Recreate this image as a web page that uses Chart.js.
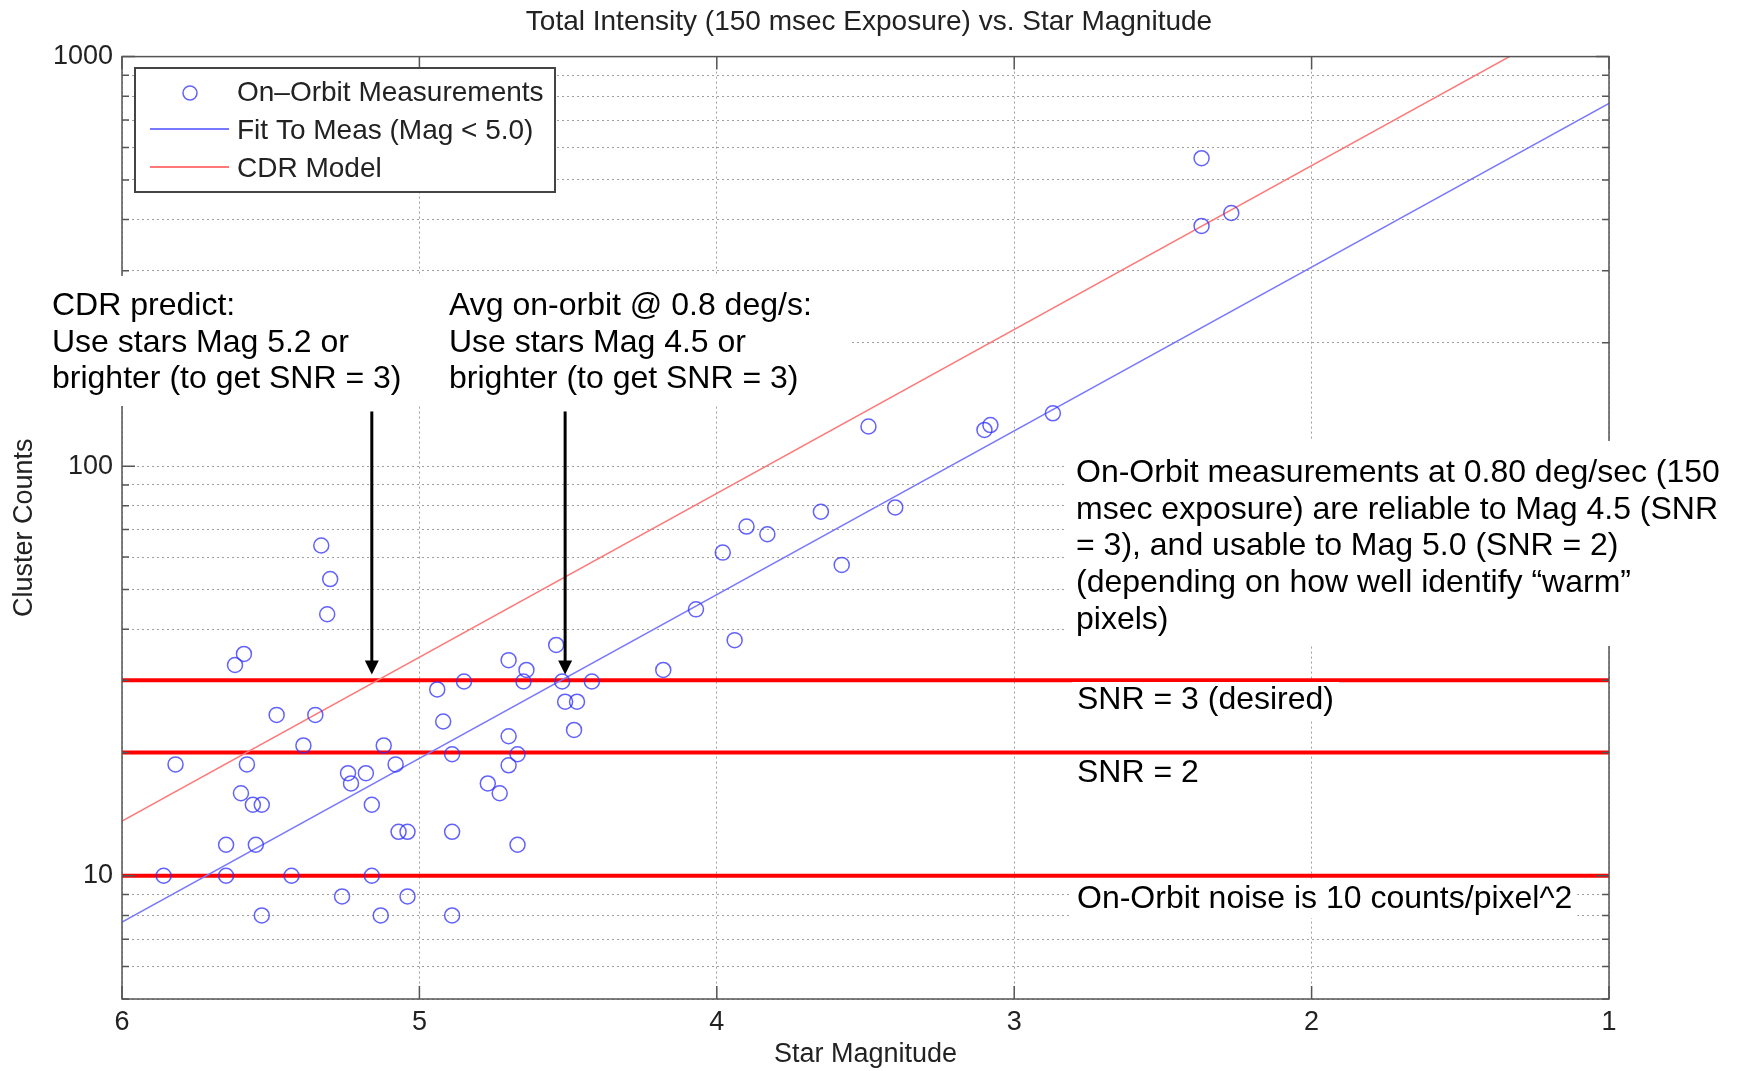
<!DOCTYPE html>
<html>
<head>
<meta charset="utf-8">
<title>Total Intensity vs. Star Magnitude</title>
<script src="https://cdn.jsdelivr.net/npm/chart.js@4.4.0/dist/chart.umd.min.js"></script>
<style>
  html, body { margin: 0; padding: 0; background: #fff; }
  canvas { display: block; }
</style>
</head>
<body>
<canvas id="intensity" width="1738" height="1071"></canvas>
<script>
// star magnitude / cluster counts for each on-orbit measurement
const measMag = [
  5.33, 5.30, 5.31, 5.59, 5.62, 5.48, 5.35, 5.39, 5.82, 5.58,
  5.60, 5.56, 5.53, 5.65, 5.55, 5.86, 5.65, 5.43, 5.16, 5.53,
  5.26, 5.13, 5.04, 4.89, 5.12, 5.24, 5.18, 5.23, 5.08, 5.16,
  5.07, 5.04, 4.89, 4.94, 4.85, 4.92, 4.89, 4.70, 4.64, 4.65,
  4.54, 4.52, 4.42, 4.51, 4.47, 4.48, 4.70, 4.67, 4.70, 4.77,
  4.73, 4.67,
  3.49, 3.10, 3.08, 2.87, 3.65, 3.40, 3.90, 3.83, 3.98, 3.58,
  4.07, 3.94, 4.18,
  2.37, 2.37, 2.27
];
const measCounts = [
  64, 53, 43.5, 34.8, 32.7, 24.7, 24.7, 20.8, 18.7, 18.7,
  15.9, 14.9, 14.9, 11.9, 11.9, 10, 10, 10, 10, 8,
  8.9, 8, 8.9, 8, 20.8, 17.8, 17.8, 16.8, 18.7, 14.9,
  12.8, 12.8, 12.8, 28.5, 29.8, 23.8, 19.8, 33.6, 31.8, 29.8,
  36.6, 29.8, 29.8, 26.6, 26.6, 22.7, 21.9, 19.8, 18.6, 16.8,
  15.9, 11.9,
  125, 122.6, 126, 134.6, 77.4, 79.3, 71.2, 68.2, 61.5, 57.4,
  44.7, 37.6, 31.8,
  565, 386, 415
];

// fitted line and CDR model (log counts linear in magnitude)
const lineMag = [6, 1];
const fitCounts = [7.7, 769];
const cdrCounts = [13.6, 1361];

// SNR threshold levels
const snrLevels = [30, 20, 10];

// arrows: magnitude, start count, tip count
const arrowMag = [5.16, 4.51];
const arrowFrom = 136;
const arrowTo = 31;

// axis ticks
const xTicks = [6, 5, 4, 3, 2, 1];
const yGrid = [5, 6, 7, 8, 9, 10, 20, 30, 40, 50, 60, 70, 80, 90,
               100, 200, 300, 400, 500, 600, 700, 800, 900, 1000];
const yLabels = [10, 100, 1000];

const measColor = 'rgba(45,45,255,0.75)';
const fitColor = 'rgb(120,120,255)';
const cdrColor = 'rgb(255,120,120)';
const snrColor = '#ff0000';
const labelFont = '"Liberation Sans", Arial, Helvetica, sans-serif';

Chart.defaults.font.family = labelFont;
Chart.defaults.color = '#222';

const pairs = (xs, ys) => xs.map((v, i) => ({ x: v, y: ys[i] }));

const snrSets = snrLevels.map(lvl => ({
  type: 'line',
  label: 'SNR ' + lvl,
  data: pairs(lineMag, [lvl, lvl]),
  borderColor: snrColor,
  borderWidth: 4,
  pointRadius: 0
}));

const gridStyle = { color: 'rgba(0,0,0,0.38)', lineWidth: 1, drawTicks: false, borderDash: [2, 3] };
const borderStyle = { display: false, dash: [2, 3] };

// box, inward ticks
const frame = {
  id: 'frame',
  afterDatasetsDraw(chart) {
    const { ctx, chartArea: a, scales: { x, y } } = chart;
    ctx.save();
    ctx.strokeStyle = '#555';
    ctx.lineWidth = 1.5;
    ctx.beginPath();
    xTicks.forEach(v => {
      const px = x.getPixelForValue(v);
      ctx.moveTo(px, a.bottom); ctx.lineTo(px, a.bottom - 13);
      ctx.moveTo(px, a.top); ctx.lineTo(px, a.top + 13);
    });
    yGrid.forEach(v => {
      const py = y.getPixelForValue(v);
      const len = yLabels.includes(v) ? 13 : 7;
      ctx.moveTo(a.left, py); ctx.lineTo(a.left + len, py);
      ctx.moveTo(a.right, py); ctx.lineTo(a.right - len, py);
    });
    ctx.stroke();
    ctx.strokeRect(a.left, a.top, a.right - a.left, a.bottom - a.top);
    ctx.restore();
  }
};

const leftNotes = [
  { x: 52, lines: ['CDR predict:', 'Use stars Mag 5.2 or', 'brighter (to get SNR = 3)'] },
  { x: 449, lines: ['Avg on-orbit @ 0.8 deg/s:', 'Use stars Mag 4.5 or', 'brighter (to get SNR = 3)'] }
];
const rightNote = [
  'On-Orbit measurements at 0.80 deg/sec (150',
  'msec exposure) are reliable to Mag 4.5 (SNR',
  '= 3), and usable to Mag 5.0 (SNR = 2)',
  '(depending on how well identify \u201cwarm\u201d',
  'pixels)'
];
const snrNotes = [
  { text: 'SNR = 3 (desired)', y: 709 },
  { text: 'SNR = 2', y: 782 },
  { text: 'On-Orbit noise is 10 counts/pixel^2', y: 908 }
];

const notes = {
  id: 'notes',
  afterDraw(chart) {
    const { ctx, scales: { x, y } } = chart;
    ctx.save();
    ctx.font = '32px ' + labelFont;
    ctx.fillStyle = '#fff';
    ctx.fillRect(33, 276, 818, 130);
    ctx.fillRect(1066, 441, 672, 205);
    snrNotes.forEach(n => {
      const w = ctx.measureText(n.text).width;
      ctx.fillRect(1072, n.y - 27, w + 10, 37);
    });

    ctx.fillStyle = '#000';
    ctx.textBaseline = 'alphabetic';
    ctx.textAlign = 'left';
    leftNotes.forEach(n => n.lines.forEach((t, i) => ctx.fillText(t, n.x, 315 + i * 36.7)));
    rightNote.forEach((t, i) => ctx.fillText(t, 1076, 482 + i * 36.7));
    snrNotes.forEach(n => ctx.fillText(n.text, 1077, n.y));

    // arrows
    ctx.strokeStyle = '#000';
    ctx.lineWidth = 3;
    arrowMag.forEach(m => {
      const px = x.getPixelForValue(m);
      const top = y.getPixelForValue(arrowFrom);
      const tip = y.getPixelForValue(arrowTo);
      ctx.beginPath();
      ctx.moveTo(px, top);
      ctx.lineTo(px, tip - 10);
      ctx.stroke();
      ctx.beginPath();
      ctx.moveTo(px - 7, tip - 14);
      ctx.lineTo(px + 7, tip - 14);
      ctx.lineTo(px, tip);
      ctx.closePath();
      ctx.fill();
    });

    // legend
    ctx.fillStyle = '#fff';
    ctx.fillRect(135, 68, 420, 124);
    ctx.strokeStyle = '#444';
    ctx.lineWidth = 2;
    ctx.strokeRect(135, 68, 420, 124);
    ctx.strokeStyle = measColor;
    ctx.lineWidth = 1.5;
    ctx.beginPath();
    ctx.arc(190, 93, 7, 0, Math.PI * 2);
    ctx.stroke();
    ctx.lineWidth = 2;
    ctx.strokeStyle = fitColor;
    ctx.beginPath(); ctx.moveTo(150, 129); ctx.lineTo(229, 129); ctx.stroke();
    ctx.strokeStyle = cdrColor;
    ctx.beginPath(); ctx.moveTo(150, 167); ctx.lineTo(229, 167); ctx.stroke();
    ctx.fillStyle = '#222';
    ctx.font = '28px ' + labelFont;
    ctx.textBaseline = 'middle';
    ['On\u2013Orbit Measurements', 'Fit To Meas (Mag < 5.0)', 'CDR Model']
      .forEach((t, i) => ctx.fillText(t, 237, 93 + i * 38));
    ctx.restore();
  }
};

new Chart(document.getElementById('intensity'), {
  type: 'scatter',
  data: {
    datasets: [
      {
        label: 'On-Orbit Measurements',
        data: pairs(measMag, measCounts),
        pointStyle: 'circle',
        pointRadius: 7.5,
        pointBorderWidth: 1.5,
        borderColor: measColor,
        backgroundColor: 'rgba(0,0,0,0)'
      },
      {
        type: 'line',
        label: 'Fit To Meas (Mag < 5.0)',
        data: pairs(lineMag, fitCounts),
        borderColor: fitColor,
        borderWidth: 1.5,
        pointRadius: 0
      },
      {
        type: 'line',
        label: 'CDR Model',
        data: pairs(lineMag, cdrCounts),
        borderColor: cdrColor,
        borderWidth: 1.5,
        pointRadius: 0
      },
      ...snrSets
    ]
  },
  options: {
    responsive: false,
    animation: false,
    devicePixelRatio: 1,
    layout: { padding: 0 },
    plugins: {
      legend: { display: false },
      tooltip: { enabled: false },
      title: {
        display: true,
        text: 'Total Intensity (150 msec Exposure) vs. Star Magnitude',
        font: { size: 28, weight: 'normal' },
        color: '#222',
        padding: { top: 5, bottom: 18 }
      }
    },
    scales: {
      x: {
        type: 'linear',
        min: 1,
        max: 6,
        reverse: true,
        afterBuildTicks: s => { s.ticks = xTicks.map(v => ({ value: v })); },
        afterFit: s => { s.height = 72; },
        ticks: { font: { size: 27 }, color: '#222', padding: 7, autoSkip: false, maxRotation: 0 },
        grid: gridStyle,
        border: borderStyle,
        title: { display: true, text: 'Star Magnitude', font: { size: 27 }, color: '#222', padding: 0 }
      },
      y: {
        type: 'logarithmic',
        min: 5,
        max: 1000,
        afterBuildTicks: s => { s.ticks = yGrid.map(v => ({ value: v })); },
        afterFit: s => { s.width = 122; },
        ticks: {
          font: { size: 27 },
          color: '#222',
          padding: 9,
          autoSkip: false,
          callback: v => (yLabels.includes(v) ? String(v) : '')
        },
        grid: gridStyle,
        border: borderStyle,
        title: { display: true, text: 'Cluster Counts', font: { size: 27 }, color: '#222', padding: { top: 8, bottom: 0 } }
      },
      // empty right-hand margin so the title centres over the whole figure
      margin: {
        type: 'linear',
        position: 'right',
        display: true,
        afterFit: s => { s.width = 129; },
        ticks: { display: false },
        grid: { display: false, drawTicks: false },
        border: { display: false }
      }
    }
  },
  plugins: [frame, notes]
});
</script>
</body>
</html>
